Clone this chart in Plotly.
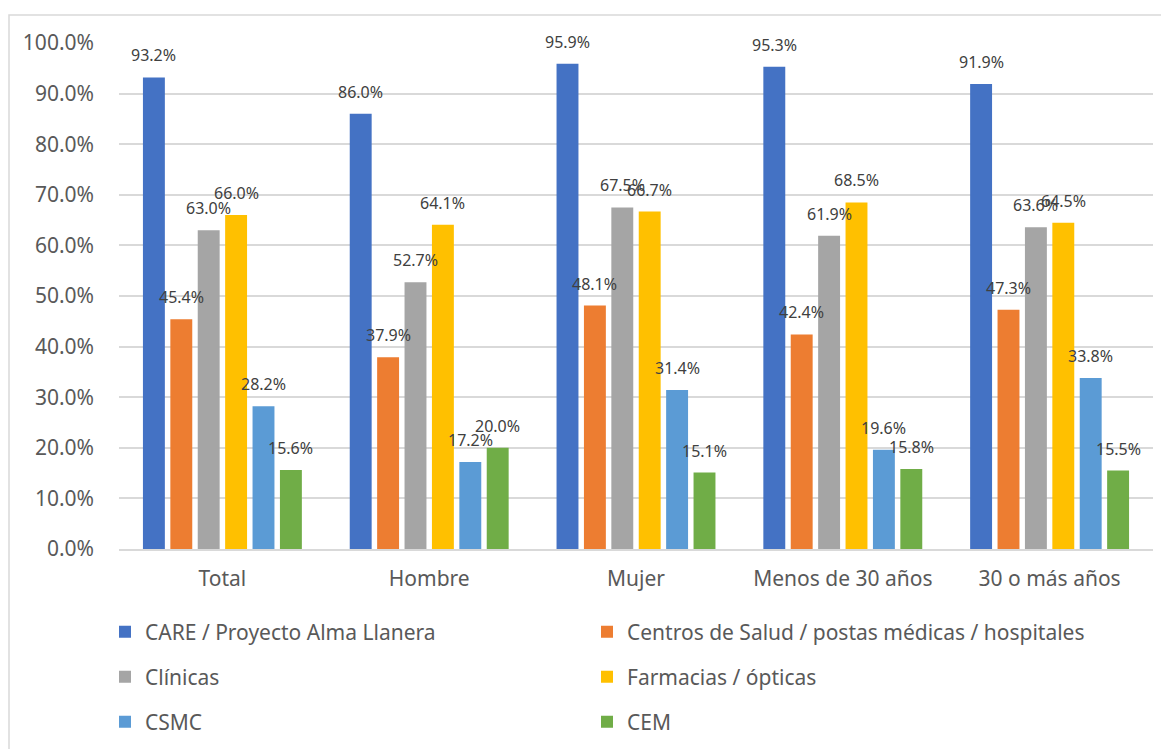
import plotly.graph_objects as go

# ---------------------------------------------------------------------------
# Datos
# ---------------------------------------------------------------------------
categorias = ['Total', 'Hombre', 'Mujer', 'Menos de 30 años', '30 o más años']

series = [
    'CARE / Proyecto Alma Llanera',
    'Centros de Salud / postas médicas / hospitales',
    'Clínicas',
    'Farmacias / ópticas',
    'CSMC',
    'CEM',
]

care      = [0.932, 0.860, 0.959, 0.953, 0.919]
centros   = [0.454, 0.379, 0.481, 0.424, 0.473]
clinicas  = [0.630, 0.527, 0.675, 0.619, 0.636]
farmacias = [0.660, 0.641, 0.667, 0.685, 0.645]
csmc      = [0.282, 0.172, 0.314, 0.196, 0.338]
cem       = [0.156, 0.200, 0.151, 0.158, 0.155]

valores = [care, centros, clinicas, farmacias, csmc, cem]

COLORES = ['#4472C4', '#ED7D31', '#A5A5A5', '#FFC000', '#5B9BD5', '#70AD47']

FONT = 'Noto Sans, Arial, sans-serif'
GRIS_TEXTO = '#595959'
GRID = '#D9D9D9'

# ---------------------------------------------------------------------------
# Geometria (la pagina tiene 8 px de margen en el body)
# ---------------------------------------------------------------------------
OFF = 8
W, H = 1169 - OFF, 749 - OFF + 14   # algo mas alto: la ultima fila de leyenda no empuja el margen
M_L, M_R, M_T, M_B = 119 - OFF, 16, 43 - OFF, 200 + 14
BARGAP = 0.205
plot_w = W - M_L - M_R
plot_h = H - M_T - M_B
slot_px = plot_w / len(categorias) * (1 - BARGAP) / len(series)


def xp(x):
    # pixel de la captura -> fraccion de papel
    return (x - OFF - M_L) / plot_w


def yp(y):
    return (H - M_B - (y - OFF)) / plot_h


# una leyenda por entrada: 2 columnas x 3 filas
ley_ids = ['legend', 'legend2', 'legend3', 'legend4', 'legend5', 'legend6']
ley_x = [105, 587] * 3
ley_y = [632, 632, 677, 677, 722, 722]

fig = go.Figure()

for k, (nombre, vals, color) in enumerate(zip(series, valores, COLORES)):
    fig.add_trace(go.Bar(
        x=categorias,
        y=vals,
        name=nombre,
        marker=dict(color=color, line=dict(width=0)),
        legend=ley_ids[k],
        showlegend=True,
        hovertemplate='%{x}<br>' + nombre + ': %{y:.1%}<extra></extra>',
    ))
    # etiquetas de datos (encima de cada barra)
    for cat, v in zip(categorias, vals):
        fig.add_annotation(
            x=cat, y=v, xref='x', yref='y',
            text=f'{v*100:.1f}%',
            showarrow=False,
            xshift=(k - (len(series) - 1) / 2) * slot_px,
            yshift=22,
            font=dict(size=16, color='#404040', family=FONT),
        )

# borde del area del grafico
fig.add_shape(
    type='rect', xref='paper', yref='paper',
    x0=xp(OFF + 1), x1=xp(1200), y0=yp(800), y1=yp(15),
    line=dict(color=GRID, width=1.5), fillcolor='rgba(0,0,0,0)',
    layer='below',
)

leyendas = {}
for lid, lx, ly in zip(ley_ids, ley_x, ley_y):
    leyendas[lid] = dict(
        orientation='h',
        x=xp(lx), y=yp(ly),
        xanchor='left', yanchor='middle',
        font=dict(size=21, color=GRIS_TEXTO, family=FONT),
        bgcolor='rgba(0,0,0,0)',
        itemclick=False,
        visible=True,
    )

fig.update_layout(
    width=W, height=H,
    paper_bgcolor='white',
    plot_bgcolor='white',
    margin=dict(l=M_L, r=M_R, t=M_T, b=M_B),
    barmode='group',
    bargap=BARGAP,
    bargroupgap=0.2,
    showlegend=True,
    font=dict(family=FONT, color=GRIS_TEXTO),
    hoverlabel=dict(bgcolor='white', font_size=13),
    **leyendas,
)

fig.update_yaxes(
    range=[0, 1],
    dtick=0.1,
    tickformat='.1%',
    showgrid=True, gridcolor=GRID, gridwidth=1.5,
    zeroline=False,
    showline=False,
    ticks='',
    ticklabelstandoff=24,
    automargin=False,
    tickfont=dict(size=21, color=GRIS_TEXTO, family=FONT),
)
fig.update_xaxes(
    showline=True, linecolor=GRID, linewidth=1.5,
    ticks='',
    ticklabelstandoff=10,
    automargin=False,
    tickfont=dict(size=21, color=GRIS_TEXTO, family=FONT),
)

fig.write_html('out.html')
